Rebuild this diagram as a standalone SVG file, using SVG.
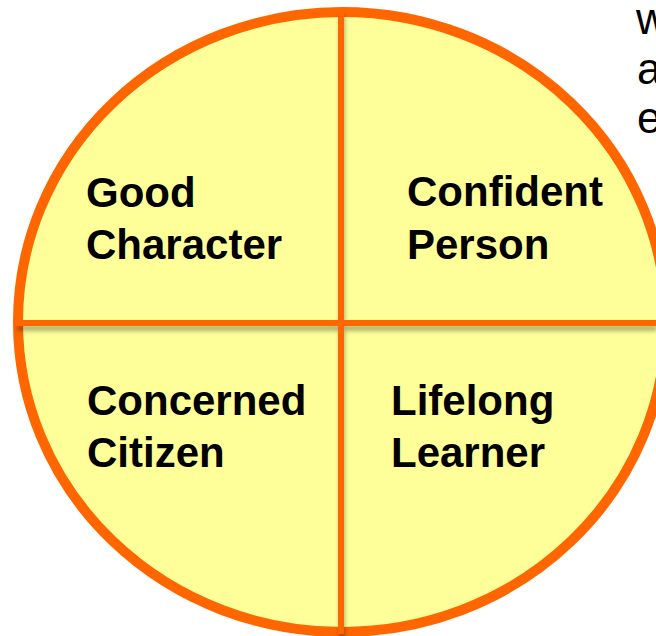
<svg xmlns="http://www.w3.org/2000/svg" width="656" height="636" viewBox="0 0 656 636">
  <style>
    .lbl { font-family: "Liberation Sans", Arial, sans-serif; font-weight: bold; font-size: 42px; fill: #000; }
    .side { font-family: "Liberation Sans", Arial, sans-serif; font-size: 44px; fill: #000; }
    .div { stroke: #FF6600; stroke-width: 6; fill: none; }
  </style>
  <defs>
    <filter id="sh" x="-10%" y="-10%" width="120%" height="130%">
      <feDropShadow dx="1" dy="5" stdDeviation="2" flood-color="#000" flood-opacity="0.3"/>
    </filter>
  </defs>
  <rect width="656" height="636" fill="#FFFFFF"/>
  <g id="wheel">
    <ellipse cx="342" cy="322" rx="324" ry="310" fill="#FFFF99" stroke="#FF6600" stroke-width="10"/>
  </g>
  <g id="dividers" filter="url(#sh)">
    <line class="div" x1="341" y1="10" x2="341" y2="634"/>
    <line class="div" x1="16" y1="323" x2="656" y2="323"/>
  </g>
  <g id="good-character">
    <text class="lbl" x="86" y="207">Good</text>
    <text class="lbl" x="86" y="259">Character</text>
  </g>
  <g id="confident-person">
    <text class="lbl" x="407" y="206">Confident</text>
    <text class="lbl" x="407" y="259">Person</text>
  </g>
  <g id="concerned-citizen">
    <text class="lbl" x="87" y="415">Concerned</text>
    <text class="lbl" x="87" y="467">Citizen</text>
  </g>
  <g id="lifelong-learner">
    <text class="lbl" x="391" y="415">Lifelong</text>
    <text class="lbl" x="391" y="467">Learner</text>
  </g>
  <g id="side-text">
    <text class="side" x="636" y="34">w</text>
    <text class="side" x="637" y="84">a</text>
    <text class="side" x="637" y="133">e</text>
  </g>
</svg>
